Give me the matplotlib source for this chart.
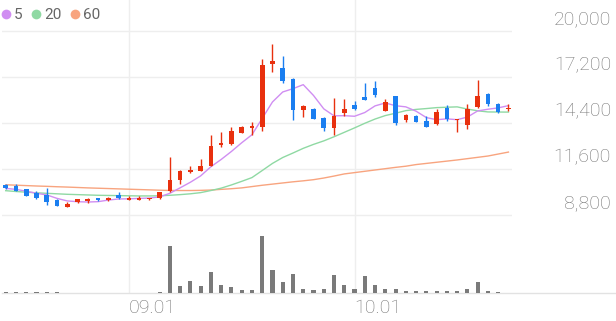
import matplotlib
matplotlib.use("Agg")
import matplotlib.pyplot as plt
from matplotlib.lines import Line2D
from matplotlib.transforms import ScaledTranslation
import numpy as np

# ---------------- data ----------------
opens = [10600, 10570, 10360, 10160, 10040, 9740, 9310, 9570, 9680, 9820,
         9720, 10000, 9720, 9740, 9750, 9840, 10240, 10950, 11420, 11500,
         11800, 13040, 13120, 13810, 14100, 14140, 17990, 17750, 17100, 15210,
         15270, 14690, 14100, 14990, 15500, 15980, 16510, 15150, 16020, 14600,
         14840, 14520, 14320, 15330, 14560, 14300, 15350, 16180, 15560, 15240]
highs = [10700, 10700, 10400, 10240, 10420, 9760, 9600, 9790, 9820, 9830,
         9900, 10180, 9980, 9940, 9860, 10220, 12330, 11560, 11800, 12190,
         13650, 13850, 14160, 14240, 14440, 18300, 19230, 18460, 17140, 15480,
         15300, 14750, 15900, 15860, 15740, 16820, 16980, 15880, 16060, 14950,
         14870, 14810, 15250, 15520, 14660, 15560, 17000, 16220, 15600, 15540]
lows = [10380, 10240, 9950, 9800, 9390, 9350, 9300, 9550, 9550, 9650,
        9670, 9790, 9700, 9710, 9720, 9760, 10200, 10700, 11380, 11460,
        11760, 12920, 13080, 13770, 13650, 13930, 17500, 16830, 14560, 14750,
        14640, 13930, 13690, 14840, 15190, 15780, 16000, 15110, 14260, 14480,
        14460, 14150, 14280, 14540, 13870, 14050, 15310, 15420, 15030, 15150]
closes = [10430, 10280, 9980, 9820, 9610, 9370, 9500, 9750, 9720, 9720,
          9850, 9840, 9800, 9840, 9830, 10190, 10950, 11460, 11540, 11760,
          12980, 13160, 13900, 14180, 14200, 17950, 18170, 16940, 15190, 15420,
          14660, 14100, 14810, 15240, 15240, 15800, 16120, 15700, 14400, 14890,
          14480, 14180, 15050, 14660, 14640, 15270, 16060, 15560, 15070, 15330]
volumes = [20, 18, 22, 20, 30, 18, 15, 12, 12, 12,
           14, 14, 12, 12, 12, 20, 946, 146, 252, 146,
           420, 160, 126, 60, 72, 1152, 466, 226, 392, 80,
           60, 80, 372, 172, 86, 346, 160, 80, 92, 46,
           40, 40, 46, 40, 46, 80, 226, 52, 26, 12]
ma5 = [10420, 10360, 10250, 10120, 10024, 9812, 9656, 9610, 9590, 9612,
       9708, 9776, 9786, 9810, 9832, 9900, 10122, 10454, 10794, 11180,
       11738, 12180, 12668, 13196, 13684, 14678, 15680, 16288, 16490, 16734,
       16076, 15262, 14836, 14846, 14810, 15038, 15442, 15620, 15452, 15382,
       15118, 14730, 14600, 14652, 14602, 14760, 15136, 15238, 15320, 15458]
ma20 = [10280, 10230, 10190, 10150, 10120, 10090, 10060, 10040, 10020, 10000,
        9990, 9980, 9970, 9960, 9960, 9970, 10000, 10040, 10090, 10162,
        10290, 10434, 10630, 10848, 11077, 11506, 11940, 12299, 12573, 12858,
        13098, 13311, 13562, 13832, 14102, 14383, 14641, 14853, 14996, 15153,
        15228, 15279, 15336, 15360, 15382, 15248, 15143, 15074, 15068, 15063]
ma60 = [10640, 10615, 10590, 10565, 10545, 10520, 10500, 10475, 10450, 10430,
        10410, 10390, 10370, 10350, 10330, 10310, 10295, 10290, 10290, 10300,
        10320, 10360, 10400, 10450, 10530, 10610, 10680, 10750, 10820, 10880,
        10950, 11050, 11170, 11300, 11380, 11460, 11540, 11620, 11700, 11770,
        11870, 11940, 12010, 12080, 12150, 12230, 12310, 12390, 12510, 12630]
price_ticks = [8800, 11600, 14400, 17200, 20000]
date_ticks = [12, 34]
date_labels = ["09.01", "10.01"]
legend_labels = ["5", "20", "60"]

# ---------------- style ----------------
RED, BLUE = "#e8300e", "#1a7ef0"
C5, C20, C60 = "#d08ef2", "#8fd9a3", "#f8a47f"
GRID = "#eeeeee"
TXT = "#737373"
plt.rcParams["font.family"] = ["Roboto", "DejaVu Sans"]

W, H = 616, 321
fig = plt.figure(figsize=(W / 100, H / 100), dpi=100)

ppx = 2800 / 46.0            # price per pixel
step = 10.26                 # pixels per candle
x0 = 5.7                     # pixel of first candle
left_px, right_px = 2, 512
top_px, mid_px, base_px = 0, 218, 293.3

ax = fig.add_axes([left_px / W, (H - mid_px) / H, (right_px - left_px) / W, (mid_px - top_px) / H])
axv = fig.add_axes([left_px / W, (H - base_px) / H, (W - left_px) / W, (base_px - mid_px) / H])

xl = (left_px - x0) / step
ax.set_xlim(xl, (right_px - x0) / step)
axv.set_xlim(xl, (W - x0) / step)
ax.set_ylim(8800 - (mid_px - 215) * ppx, 20000 + (31 - top_px) * ppx)
axv.set_ylim(0, max(volumes) * (base_px - mid_px) / 57.6)

idx = np.arange(len(closes))
o = np.array(opens); c = np.array(closes)
up = c >= o
cols = np.where(up, RED, BLUE)

# moving averages
ax.plot(idx, ma60, color=C60, lw=1.0, zorder=2)
ax.plot(idx, ma20, color=C20, lw=1.0, zorder=2)
ax.plot(idx, ma5, color=C5, lw=1.0, zorder=2)

# candles
ax.vlines(idx, lows, highs, colors=cols, lw=1.0, zorder=3)
body_h = np.maximum(np.abs(c - o), 1.6 * ppx)
ax.bar(idx, body_h, bottom=np.minimum(o, c), width=0.45, color=cols, lw=0, zorder=4)

# volume
axv.bar(idx, volumes, width=0.4, color="#7a7a7a", lw=0, zorder=3)

# axes styling
for s in ax.spines.values():
    s.set_visible(False)
for k, s in axv.spines.items():
    s.set_visible(k == "bottom")
axv.spines["bottom"].set_color("#e2e2e2")
axv.spines["bottom"].set_linewidth(1.0)

ax.set_xticks(date_ticks)
ax.tick_params(axis="x", length=0, labelbottom=False)
ax.grid(True, color=GRID, lw=1.0, zorder=0)
ax.set_axisbelow(True)

ax.yaxis.tick_right()
ax.set_yticks(price_ticks)
ax.set_yticklabels([f"{v:,}" for v in price_ticks])
ax.tick_params(axis="y", length=0, pad=(611 - right_px) * 0.72, labelsize=14, labelcolor=TXT)
for lbl in ax.get_yticklabels():
    lbl.set_ha("right")
    lbl.set_fontweight("light")
    lbl.set_transform(lbl.get_transform() + ScaledTranslation(0, 14 / 100, fig.dpi_scale_trans))

axv.set_yticks([])
axv.set_xticks(date_ticks)
axv.set_xticklabels(date_labels)
axv.tick_params(axis="x", length=0, pad=4, labelsize=14, labelcolor=TXT)
for lbl in axv.get_xticklabels():
    lbl.set_ha("left")
    lbl.set_fontweight("light")
axv.grid(True, axis="x", color=GRID, lw=1.0, zorder=0)
axv.set_axisbelow(True)

# legend
handles = [Line2D([], [], marker="o", ls="", color=col, markersize=7, markeredgewidth=0)
           for col in (C5, C20, C60)]
leg = fig.legend(handles, legend_labels, loc="upper left", bbox_to_anchor=(0, 1 - 7 / H),
                 ncol=3, frameon=False, fontsize=11, handlelength=0.6,
                 handletextpad=0.24, columnspacing=0.56, borderpad=0.08, borderaxespad=0)
for t in leg.get_texts():
    t.set_color("#666666")

fig.savefig("out.png", dpi=100)
